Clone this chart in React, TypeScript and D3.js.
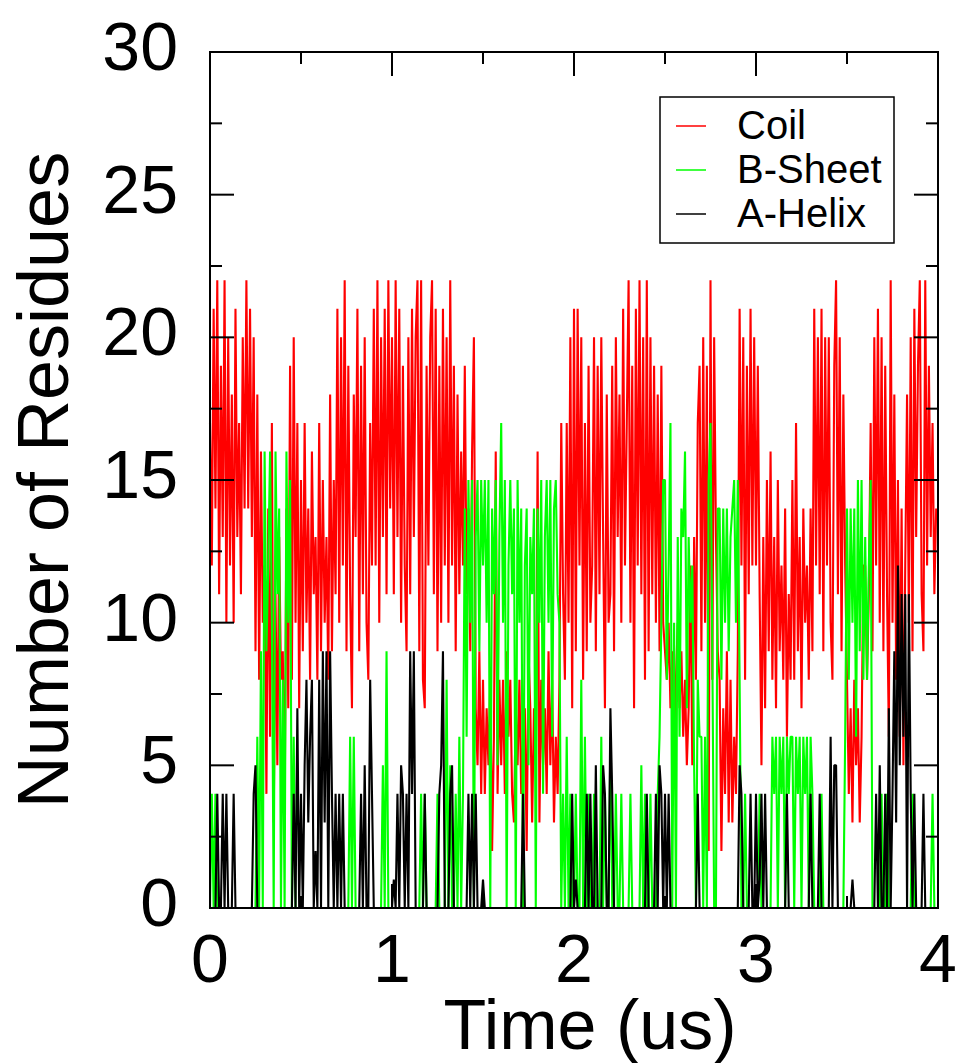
import React from "react";
import * as d3 from "d3";

// sampling interval of the trajectory (us)
const timeStep = 0.01;

const coil = [
  17, 12, 21, 14, 22, 11, 19, 13, 22, 10,
  20, 12, 18, 10, 21, 13, 17, 11, 20, 14,
  22, 14, 21, 13, 20, 9, 18, 8, 16, 10,
  12, 4, 14, 6, 17, 3, 11, 5, 13, 8,
  9, 3, 14, 7, 19, 8, 20, 10, 17, 7,
  15, 9, 17, 10, 14, 8, 16, 11, 13, 8,
  17, 9, 15, 10, 13, 8, 18, 9, 15, 11,
  21, 10, 20, 12, 22, 9, 19, 11, 7, 18,
  13, 21, 9, 19, 11, 20, 10, 8, 17, 12,
  21, 12, 22, 10, 20, 13, 21, 11, 22, 14,
  20, 11, 22, 13, 21, 10, 19, 12, 9, 20,
  11, 21, 13, 20, 22, 9, 22, 8, 7, 19,
  12, 20, 22, 11, 21, 9, 19, 10, 21, 12,
  20, 10, 22, 12, 19, 9, 18, 11, 16, 12,
  19, 11, 14, 9, 16, 20, 7, 5, 9, 4,
  8, 4, 7, 5, 8, 2, 6, 16, 4, 8,
  5, 8, 4, 9, 6, 8, 4, 3, 7, 5,
  8, 4, 6, 7, 2, 9, 7, 3, 7, 5,
  16, 3, 8, 5, 7, 4, 9, 5, 8, 3,
  6, 4, 8, 17, 11, 8, 17, 10, 20, 7,
  21, 9, 21, 12, 20, 8, 17, 9, 19, 10,
  12, 20, 9, 19, 11, 20, 13, 7, 18, 10,
  11, 19, 9, 20, 13, 18, 10, 21, 12, 17,
  22, 10, 19, 7, 21, 12, 22, 11, 20, 8,
  22, 9, 20, 11, 19, 10, 18, 9, 19, 10,
  9, 8, 10, 7, 9, 6, 8, 10, 7, 9,
  6, 8, 5, 7, 12, 5, 13, 8, 17, 19,
  9, 20, 10, 19, 2, 22, 8, 20, 13, 9,
  8, 2, 7, 4, 9, 3, 8, 3, 6, 4,
  9, 21, 12, 20, 8, 19, 11, 21, 12, 20,
  12, 19, 11, 5, 13, 7, 15, 9, 16, 8,
  13, 7, 15, 9, 12, 8, 14, 6, 11, 8,
  15, 8, 17, 9, 13, 7, 14, 10, 12, 8,
  14, 9, 21, 12, 20, 11, 21, 9, 20, 12,
  20, 10, 8, 19, 22, 11, 20, 9, 18, 12,
  8, 4, 7, 3, 8, 5, 7, 3, 6, 12,
  12, 8, 11, 17, 9, 20, 12, 21, 10, 20,
  9, 19, 11, 6, 22, 10, 18, 8, 15, 6,
  14, 5, 12, 18, 10, 20, 9, 21, 13, 19,
  22, 11, 9, 22, 12, 19, 13, 17, 11, 14,
];

const bSheet = [
  0, 4, 0, 4, 0, 0, 0, 0, 0, 0,
  0, 0, 0, 0, 0, 0, 0, 0, 0, 0,
  0, 0, 0, 0, 0, 0, 6, 0, 9, 0,
  16, 9, 12, 16, 10, 0, 16, 11, 14, 0,
  8, 0, 16, 10, 15, 0, 6, 0, 0, 0,
  0, 0, 0, 0, 0, 0, 0, 0, 0, 0,
  0, 0, 0, 0, 0, 0, 0, 0, 0, 0,
  0, 0, 0, 0, 0, 0, 0, 6, 0, 6,
  0, 0, 0, 0, 0, 0, 0, 0, 0, 0,
  0, 0, 0, 0, 0, 5, 0, 9, 0, 0,
  0, 0, 0, 0, 0, 0, 0, 0, 0, 0,
  0, 0, 0, 0, 0, 0, 4, 0, 4, 0,
  0, 0, 0, 0, 0, 4, 0, 0, 0, 0,
  8, 0, 5, 0, 0, 4, 0, 6, 0, 4,
  14, 6, 15, 10, 15, 0, 13, 15, 9, 15,
  12, 15, 10, 15, 0, 14, 11, 15, 5, 13,
  17, 10, 15, 0, 12, 15, 11, 14, 0, 15,
  10, 14, 0, 12, 14, 5, 13, 11, 14, 0,
  14, 10, 15, 4, 13, 15, 10, 15, 6, 14,
  15, 11, 10, 0, 4, 0, 6, 0, 4, 0,
  0, 4, 0, 0, 8, 0, 6, 0, 4, 0,
  0, 4, 0, 0, 0, 6, 0, 4, 0, 0,
  6, 0, 0, 4, 0, 0, 4, 0, 0, 0,
  0, 4, 0, 0, 0, 0, 0, 5, 0, 4,
  0, 0, 4, 0, 0, 0, 4, 6, 10, 15,
  15, 8, 12, 17, 0, 10, 0, 13, 6, 14,
  13, 16, 7, 13, 10, 12, 5, 0, 8, 6,
  6, 0, 6, 0, 15, 17, 9, 0, 0, 14,
  14, 8, 14, 10, 14, 9, 13, 14, 15, 10,
  15, 8, 0, 0, 4, 0, 0, 0, 0, 0,
  0, 0, 4, 0, 0, 0, 0, 0, 0, 6,
  4, 6, 0, 6, 4, 6, 0, 6, 4, 6,
  6, 0, 6, 4, 6, 0, 6, 4, 6, 0,
  6, 4, 0, 0, 0, 0, 4, 0, 0, 0,
  0, 0, 0, 0, 0, 0, 0, 0, 0, 6,
  14, 8, 14, 10, 14, 6, 15, 9, 15, 8,
  13, 8, 12, 15, 0, 0, 0, 0, 0, 4,
  0, 0, 4, 0, 0, 0, 0, 0, 0, 0,
  0, 0, 0, 0, 0, 0, 4, 0, 0, 0,
  0, 0, 0, 0, 0, 0, 0, 4, 0, 0,
];

const aHelix = [
  0, 0, 0, 0, 4, 0, 0, 4, 0, 4,
  0, 0, 0, 4, 0, 0, 0, 0, 0, 0,
  0, 0, 0, 0, 4, 5, 0, 0, 0, 0,
  0, 0, 0, 0, 0, 0, 0, 0, 0, 0,
  0, 0, 0, 0, 0, 0, 4, 0, 7, 0,
  4, 0, 5, 8, 3, 6, 8, 0, 2, 0,
  8, 0, 9, 3, 9, 0, 9, 4, 0, 4,
  0, 4, 0, 4, 0, 0, 0, 0, 0, 0,
  0, 0, 0, 4, 0, 5, 0, 0, 8, 4,
  0, 0, 0, 0, 0, 0, 0, 0, 0, 0,
  0, 1, 0, 4, 0, 5, 4, 0, 4, 0,
  9, 4, 9, 0, 0, 0, 0, 0, 4, 0,
  0, 0, 0, 0, 0, 0, 4, 5, 9, 0,
  0, 0, 4, 5, 0, 0, 0, 0, 0, 0,
  0, 0, 4, 0, 4, 0, 4, 0, 0, 0,
  1, 0, 0, 0, 0, 0, 0, 0, 0, 0,
  0, 0, 0, 0, 0, 0, 0, 0, 0, 0,
  0, 0, 4, 0, 0, 0, 0, 0, 0, 0,
  0, 0, 0, 0, 0, 0, 0, 0, 0, 0,
  0, 0, 0, 0, 0, 0, 0, 0, 0, 4,
  0, 1, 0, 0, 0, 0, 0, 4, 0, 4,
  0, 0, 5, 0, 0, 0, 5, 4, 0, 0,
  7, 4, 0, 0, 0, 0, 0, 0, 0, 0,
  0, 0, 0, 0, 0, 0, 0, 0, 0, 0,
  4, 0, 0, 0, 0, 4, 0, 5, 4, 0,
  4, 0, 4, 0, 0, 0, 0, 0, 0, 0,
  0, 0, 0, 0, 0, 0, 0, 0, 4, 0,
  0, 0, 0, 0, 0, 0, 0, 0, 0, 0,
  0, 0, 0, 0, 0, 0, 0, 0, 0, 0,
  0, 5, 4, 0, 0, 0, 0, 4, 0, 0,
  4, 0, 1, 4, 0, 4, 0, 0, 0, 0,
  0, 0, 0, 0, 0, 0, 0, 4, 0, 0,
  0, 0, 0, 0, 0, 0, 0, 0, 0, 0,
  4, 0, 0, 0, 0, 4, 0, 0, 0, 0,
  0, 6, 0, 5, 5, 0, 0, 0, 0, 0,
  0, 0, 0, 1, 0, 0, 0, 0, 0, 0,
  0, 0, 0, 0, 0, 0, 4, 0, 5, 0,
  0, 4, 0, 7, 0, 4, 9, 3, 12, 5,
  11, 6, 11, 0, 11, 4, 0, 4, 0, 0,
  0, 0, 4, 0, 0, 0, 0, 0, 0, 0,
];

const seriesNames = ["Coil", "B-Sheet", "A-Helix"];
const seriesColors = ["#ff0000", "#00ff00", "#000000"];
const xTicks = [0, 1, 2, 3, 4];
const yTicks = [0, 5, 10, 15, 20, 25, 30];

const W = 962;
const H = 1063;
const margin = { top: 52, right: 24, bottom: 155, left: 210 };
const font = "'Liberation Sans', Arial, Helvetica, sans-serif";

export default function App() {
  const innerW = W - margin.left - margin.right;
  const innerH = H - margin.top - margin.bottom;
  const x = d3.scaleLinear().domain([0, 4]).range([0, innerW]);
  const y = d3.scaleLinear().domain([0, 30]).range([innerH, 0]);

  const line = d3
    .line<number>()
    .x((d, i) => x(i * timeStep))
    .y((d) => y(d));

  const data = [coil, bSheet, aHelix];

  const yMinor = d3.range(2.5, 30, 5);
  const xMinor = d3.range(0.5, 4, 1);
  const major = 24;
  const minor = 12;

  return (
    <svg
      width={W}
      height={H}
      style={{ position: "absolute", left: 0, top: 0, background: "#fff" }}
      fontFamily={font}
    >
      <g transform={`translate(${margin.left},${margin.top})`}>
        {data.map((s, k) => (
          <path
            key={seriesNames[k]}
            d={line(s) || ""}
            fill="none"
            stroke={seriesColors[k]}
            strokeWidth={2.1}
            strokeLinejoin="bevel"
          />
        ))}

        {/* ticks, inward on all four sides */}
        <g stroke="#000" strokeWidth={2}>
          {yTicks.map((v) => (
            <g key={"ym" + v}>
              <line x1={0} x2={major} y1={y(v)} y2={y(v)} />
              <line x1={innerW} x2={innerW - major} y1={y(v)} y2={y(v)} />
            </g>
          ))}
          {yMinor.map((v) => (
            <g key={"yn" + v}>
              <line x1={0} x2={minor} y1={y(v)} y2={y(v)} />
              <line x1={innerW} x2={innerW - minor} y1={y(v)} y2={y(v)} />
            </g>
          ))}
          {xTicks.map((v) => (
            <g key={"xm" + v}>
              <line x1={x(v)} x2={x(v)} y1={innerH} y2={innerH - major} />
              <line x1={x(v)} x2={x(v)} y1={0} y2={major} />
            </g>
          ))}
          {xMinor.map((v) => (
            <g key={"xn" + v}>
              <line x1={x(v)} x2={x(v)} y1={innerH} y2={innerH - minor} />
              <line x1={x(v)} x2={x(v)} y1={0} y2={minor} />
            </g>
          ))}
        </g>

        <rect
          x={0}
          y={0}
          width={innerW}
          height={innerH}
          fill="none"
          stroke="#000"
          strokeWidth={2}
        />

        {/* tick labels */}
        {xTicks.map((v) => (
          <text
            key={"xl" + v}
            x={x(v)}
            y={innerH + 74}
            textAnchor="middle"
            fontSize={68}
          >
            {v}
          </text>
        ))}
        {yTicks.map((v) => (
          <text
            key={"yl" + v}
            x={-32}
            y={y(v) + 18}
            textAnchor="end"
            fontSize={68}
          >
            {v}
          </text>
        ))}

        {/* axis titles */}
        <text
          x={innerW / 2 + 16}
          y={innerH + 141}
          textAnchor="middle"
          fontSize={70}
        >
          Time (us)
        </text>
        <text
          transform={`translate(${-142},${innerH / 2}) rotate(-90)`}
          textAnchor="middle"
          fontSize={72}
        >
          Number of Residues
        </text>

        {/* legend */}
        <g transform={`translate(${660 - margin.left},${97 - margin.top})`}>
          <rect
            x={0}
            y={0}
            width={234}
            height={146}
            fill="#fff"
            stroke="#000"
            strokeWidth={1.5}
          />
          {seriesNames.map((name, k) => (
            <g key={name} transform={`translate(0,${29 + k * 44})`}>
              <line
                x1={16}
                x2={46}
                y1={0}
                y2={0}
                stroke={seriesColors[k]}
                strokeWidth={1.5}
              />
              <text x={77} y={13} fontSize={40}>
                {name}
              </text>
            </g>
          ))}
        </g>
      </g>
    </svg>
  );
}
